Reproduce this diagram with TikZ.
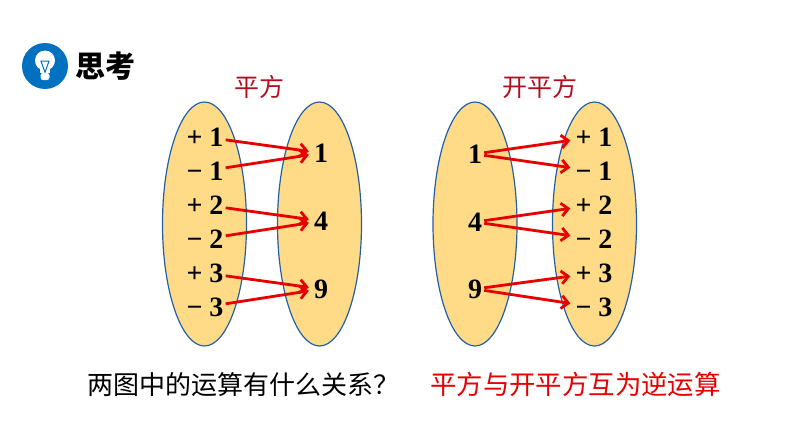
\documentclass[tikz,border=0pt]{standalone}
\usepackage{fontspec}
\usepackage{xcolor}
\setmainfont{Liberation Serif}
\newfontfamily\cjk{Noto Sans CJK SC}
\usetikzlibrary{shapes.geometric}
\usetikzlibrary{arrows.meta}
\definecolor{setfill}{HTML}{FFDB88}
\definecolor{setline}{HTML}{2460A8}
\definecolor{iconblue}{HTML}{0070C0}
\definecolor{titlered}{HTML}{B01020}
\definecolor{arrowred}{HTML}{E60000}
\def\numfont{\fontsize{28}{28}\selectfont\bfseries}
\tikzset{
  setoval/.style={draw=setline, fill=setfill, line width=1.2pt, ellipse, minimum width=84pt, minimum height=244pt, inner sep=0pt},
  num/.style={font=\numfont, inner sep=2pt, text height=18pt, text depth=0pt},
  maparrow/.style={-{Straight Barb[length=7pt,width=13pt,line width=2.8pt]}, arrowred, line width=2.8pt, shorten >=3pt},
}
\begin{document}
\begin{tikzpicture}[x=1pt, y=-1pt]
    \useasboundingbox (0,0) rectangle (794,447);

    % heading
    \node[circle, fill=iconblue, minimum size=46pt, inner sep=0pt] (icon) at (45,66) {};
    \node[circle, fill=white, minimum size=20pt, inner sep=0pt] (bulb) at (45,60.5) {};
    \node[fill=white, minimum width=10pt, minimum height=5pt, inner sep=0pt] (neck) at (45,70) {};
    \node[fill=white, rounded corners=2.5pt, minimum width=9pt, minimum height=7pt, inner sep=0pt] (base) at (45,76.5) {};
    \node[isosceles triangle, isosceles triangle apex angle=40, shape border rotate=-90, draw=iconblue, line width=1pt, minimum size=8pt, inner sep=0pt] (wire) at (45,64) {};
    \node[font=\cjk\bfseries\fontsize{30}{30}\selectfont, inner sep=0pt] (think) at (105,66) {思考};

    % the four sets
    \node[setoval] (seta) at (204.5,224) {};
    \node[setoval] (setb) at (319.5,224) {};
    \node[setoval] (setc) at (475,224) {};
    \node[setoval] (setd) at (594.5,224) {};

    \node[font=\cjk\fontsize{25}{25}\selectfont, text=titlered, inner sep=0pt] (squ) at (259,87) {平方};
    \node[font=\cjk\fontsize{25}{25}\selectfont, text=titlered, inner sep=0pt] (roo) at (540,87) {开平方};

    % left picture
    \node[num] (ap1) at (205,137) {+ 1};
    \node[num] (am1) at (205,171) {− 1};
    \node[num] (ap2) at (205,205) {+ 2};
    \node[num] (am2) at (205,239) {− 2};
    \node[num] (ap3) at (205,273) {+ 3};
    \node[num] (am3) at (205,307) {− 3};
    \node[num] (b1) at (321,153) {1};
    \node[num] (b4) at (321,221) {4};
    \node[num] (b9) at (321,289) {9};

    % right picture
    \node[num] (c1) at (475,154) {1};
    \node[num] (c4) at (475,222) {4};
    \node[num] (c9) at (475,289) {9};
    \node[num] (dp1) at (594,137) {+ 1};
    \node[num] (dm1) at (594,171) {− 1};
    \node[num] (dp2) at (594,205) {+ 2};
    \node[num] (dm2) at (594,239) {− 2};
    \node[num] (dp3) at (594,273) {+ 3};
    \node[num] (dm3) at (594,307) {− 3};

    \draw[maparrow] (ap1) -- (b1);
    \draw[maparrow] (am1) -- (b1);
    \draw[maparrow] (ap2) -- (b4);
    \draw[maparrow] (am2) -- (b4);
    \draw[maparrow] (ap3) -- (b9);
    \draw[maparrow] (am3) -- (b9);

    \draw[maparrow] (c1) -- (dp1);
    \draw[maparrow] (c1) -- (dm1);
    \draw[maparrow] (c4) -- (dp2);
    \draw[maparrow] (c4) -- (dm2);
    \draw[maparrow] (c9) -- (dp3);
    \draw[maparrow] (c9) -- (dm3);

    % bottom line
    \node[font=\cjk\fontsize{26}{26}\selectfont, anchor=west, inner sep=0pt] (ask) at (87,385) {两图中的运算有什么关系？};
    \node[font=\cjk\fontsize{26.4}{26.4}\selectfont, text=arrowred, anchor=west, inner sep=0pt] (ans) at (430,384) {平方与开平方互为逆运算};
\end{tikzpicture}
\end{document}
